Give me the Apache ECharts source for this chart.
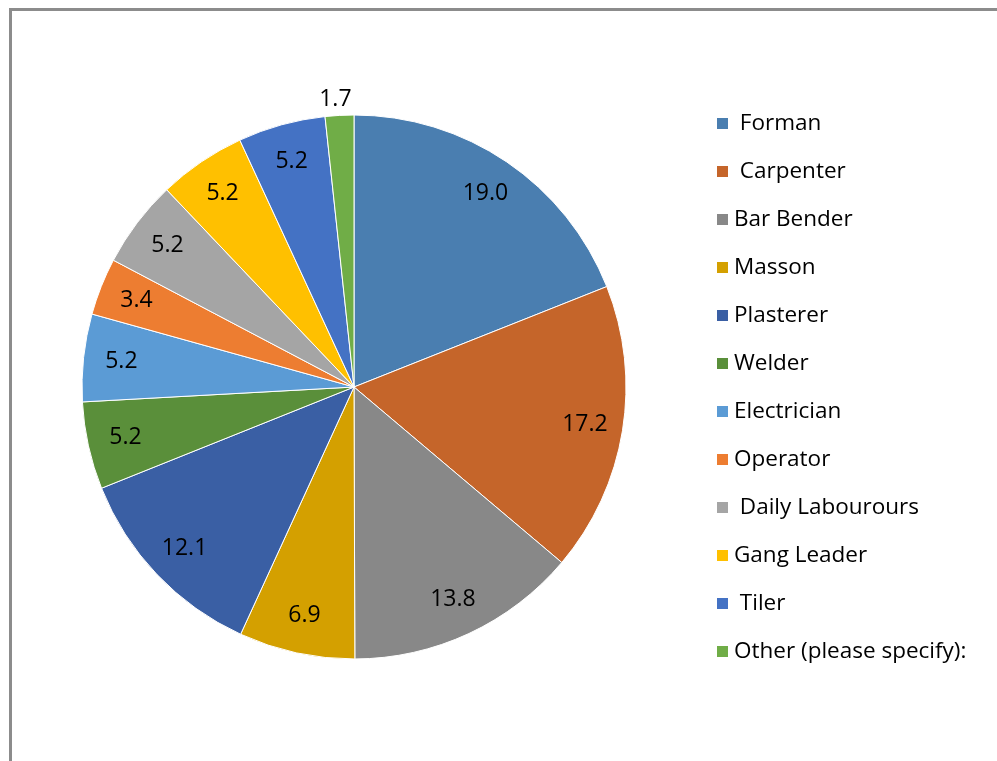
<!DOCTYPE html>
<html>
<head>
<meta charset="utf-8">
<script src="https://cdn.jsdelivr.net/npm/echarts@6/dist/echarts.min.js"></script>
<style>
html,body{margin:0;padding:0;background:#fff;}
#chart{width:997px;height:761px;}
</style>
</head>
<body>
<div id="chart"></div>
<script>
const categories = [' Forman', ' Carpenter', 'Bar Bender', 'Masson', 'Plasterer', 'Welder', 'Electrician', 'Operator', ' Daily Labourours', 'Gang Leader', ' Tiler', 'Other (please specify):'];
const values = [19.0, 17.2, 13.8, 6.9, 12.1, 5.2, 5.2, 3.4, 5.2, 5.2, 5.2, 1.7];
const colors = ['#4A7EB0', '#C5652A', '#888888', '#D4A000', '#3A5FA4', '#5A8F3A', '#5B9BD5', '#ED7D31', '#A5A5A5', '#FFC000', '#4472C4', '#70AD47'];

const FONT = 'Open Sans';
const chart = echarts.init(document.getElementById('chart'), null, {renderer: 'canvas'});

const mainData = categories.map((n, i) => ({name: n, value: values[i], itemStyle: {color: colors[i]}}));
const labelData = categories.map((n, i) => {
  const d = {name: n, value: values[i]};
  if (i === categories.length - 1) {
    d.label = {position: 'outside'};
    d.labelLine = {show: false};
  }
  return d;
});

chart.setOption({
  animation: false,
  color: colors,
  graphic: [{
    type: 'polyline',
    shape: {points: [[10.5, 761], [10.5, 9.5], [997, 9.5]]},
    style: {stroke: '#8c8c8c', lineWidth: 3, fill: null},
    silent: true
  }],
  legend: {
    orient: 'vertical',
    left: 710,
    top: 107,
    itemWidth: 13,
    itemHeight: 13,
    itemGap: 25,
    icon: 'rect',
    selectedMode: false,
    data: categories,
    textStyle: {fontFamily: FONT, fontSize: 22.5, color: '#000', lineHeight: 21}
  },
  series: [{
    type: 'pie',
    center: [354, 387],
    radius: [0, 272],
    startAngle: 90,
    clockwise: true,
    silent: true,
    data: mainData,
    label: {show: false},
    labelLine: {show: false},
    itemStyle: {borderColor: '#fff', borderWidth: 1}
  }, {
    type: 'pie',
    center: [354, 387],
    radius: [190, 272],
    startAngle: 90,
    clockwise: true,
    silent: true,
    data: labelData,
    itemStyle: {color: 'rgba(0,0,0,0)'},
    label: {
      show: true,
      position: 'inside',
      formatter: p => p.value.toFixed(1),
      fontFamily: FONT,
      fontSize: 23,
      color: '#000'
    },
    labelLine: {show: false, length: 18, length2: 0},
    labelLayout: p => (p.dataIndex === categories.length - 1 ? {dx: 18, dy: 2} : {})
  }]
});
</script>
</body>
</html>
